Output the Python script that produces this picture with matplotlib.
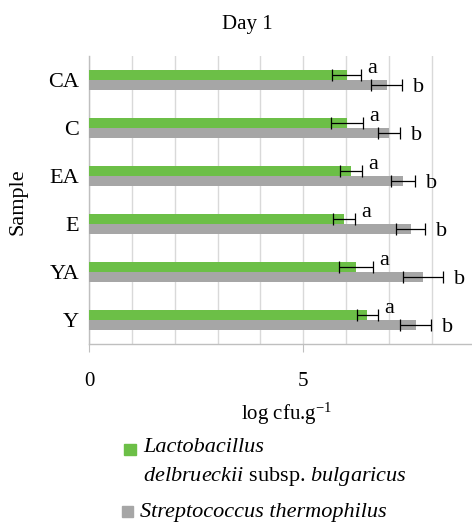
import numpy as np
import matplotlib
matplotlib.use('Agg')
import matplotlib.pyplot as plt
from matplotlib.patches import Rectangle

plt.rcParams['font.family'] = ['Liberation Serif', 'DejaVu Serif']
plt.rcParams['mathtext.fontset'] = 'custom'
plt.rcParams['mathtext.rm'] = 'Liberation Serif'
plt.rcParams['mathtext.it'] = 'Liberation Serif:italic'

# Data (top to bottom as in the chart)
samples = ['CA', 'C', 'EA', 'E', 'YA', 'Y']
lacto = [6.02, 6.02, 6.11, 5.95, 6.23, 6.50]
lacto_err = [0.34, 0.37, 0.26, 0.26, 0.40, 0.25]
strep = [6.95, 7.00, 7.32, 7.51, 7.79, 7.63]
strep_err = [0.36, 0.25, 0.28, 0.34, 0.47, 0.36]
lacto_letters = ['a', 'a', 'a', 'a', 'a', 'a']
strep_letters = ['b', 'b', 'b', 'b', 'b', 'b']

green = '#6cbf47'
grey = '#a6a6a6'
fs = 15
fs_leg = 16

fig = plt.figure(figsize=(4.72, 5.24), dpi=100)
ax = fig.add_axes([89 / 472, 1 - 344 / 524, 1 - 89 / 472, 288 / 524])

pos = np.arange(len(samples))[::-1]
h = 0.215

ax.barh(pos + h / 2, lacto, height=h, color=green, zorder=3)
ax.barh(pos - h / 2, strep, height=h, color=grey, zorder=3)
ax.errorbar(lacto, pos + h / 2, xerr=lacto_err, fmt='none', ecolor='black',
            elinewidth=0.9, capsize=4, capthick=0.9, zorder=4)
ax.errorbar(strep, pos - h / 2, xerr=strep_err, fmt='none', ecolor='black',
            elinewidth=0.9, capsize=4, capthick=0.9, zorder=4)

for i in range(len(samples)):
    ax.annotate(lacto_letters[i], (lacto[i] + lacto_err[i], pos[i] + h / 2),
                xytext=(6, 6), textcoords='offset pixels', ha='left', va='center',
                fontsize=fs_leg)
    ax.annotate(strep_letters[i], (strep[i] + strep_err[i], pos[i] - h / 2),
                xytext=(11, -2), textcoords='offset pixels', ha='left', va='center',
                fontsize=fs_leg)

ax.set_xlim(0, 8.94)
ax.set_ylim(-0.5, 5.5)
ax.set_yticks(pos)
ax.set_yticklabels(samples, fontsize=fs_leg)
ax.tick_params(axis='y', length=0, pad=7)

ax.set_xticks([0, 5])
ax.set_xticks(range(0, 9), minor=True)
ax.tick_params(axis='x', which='major', length=6, color='#bfbfbf', labelsize=fs, pad=14)
ax.tick_params(axis='x', which='minor', length=0)
ax.grid(axis='x', which='both', color='#d9d9d9', linewidth=1, zorder=0)

for s in ['top', 'right']:
    ax.spines[s].set_visible(False)
for s in ['left', 'bottom']:
    ax.spines[s].set_color('#bfbfbf')
    ax.spines[s].set_linewidth(1)

fig.text(247 / 472, 1 - 24 / 524, 'Day 1', ha='center', va='center', fontsize=fs)
fig.text(18 / 472, 1 - 202 / 524, 'Sample', ha='center', va='center',
         rotation=90, fontsize=fs_leg)
fig.text(287 / 472, 1 - 414 / 524, 'log cfu.g$^{-1}$', ha='center', va='center',
         fontsize=fs)

# legend drawn by hand so the marker sits on the first line
fig.add_artist(Rectangle((124 / 472, 1 - 455 / 524), 12 / 472, 11 / 524,
                         color=green, transform=fig.transFigure))
fig.text(143 / 472, 1 - 448 / 524, 'Lactobacillus', ha='left', va='center',
         fontsize=fs_leg, fontstyle='italic')
fig.text(143 / 472, 1 - 477 / 524,
         r'$\mathit{delbrueckii}$ subsp. $\mathit{bulgaricus}$',
         ha='left', va='center', fontsize=fs_leg)
fig.add_artist(Rectangle((122 / 472, 1 - 517 / 524), 11 / 472, 11 / 524,
                         color=grey, transform=fig.transFigure))
fig.text(140 / 472, 1 - 512 / 524, 'Streptococcus thermophilus', ha='left',
         va='center', fontsize=fs_leg, fontstyle='italic')

fig.savefig('out.png', dpi=100)
